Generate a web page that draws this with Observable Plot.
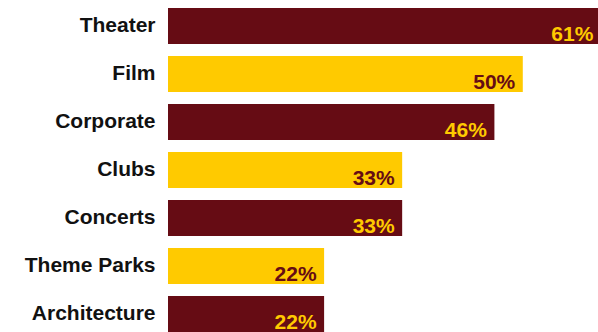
<!DOCTYPE html>
<html><head><meta charset="utf-8">
<script src="https://cdn.jsdelivr.net/npm/d3@7"></script>
<script src="https://cdn.jsdelivr.net/npm/@observablehq/plot@0.6"></script>
<style>body{margin:0;background:#fff}</style>
</head><body><div id="chart"></div>
<script>
const categories = ["Theater","Film","Corporate","Clubs","Concerts","Theme Parks","Architecture"];
const values = [61,50,46,33,33,22,22];
const maroon = "#660c14", gold = "#ffca00";
const data = categories.map((c,i)=>({category:c, value:values[i], idx:i}));
const chart = Plot.plot({
  width:598, height:332, marginLeft:168, marginRight:0, marginTop:8, marginBottom:0,
  style:{fontFamily:"'Liberation Sans', Arial, sans-serif", fontWeight:"bold", fontSize:"21px", color:"#111", background:"#fff"},
  x:{domain:[0,60.6], axis:null},
  y:{domain:categories, paddingInner:0.25, paddingOuter:0, axis:null},
  marks:[
    Plot.barX(data,{y:"category", x:"value", fill:d=>d.idx%2?gold:maroon}),
    Plot.text(data,{y:"category", x:"value", text:d=>d.value+"%", textAnchor:"end", dx:-8, dy:8,
      fill:d=>d.idx%2?maroon:gold, fontSize:21, fontWeight:"bold"}),
    Plot.axisY({tickSize:0, tickPadding:13, dy:-1, fontSize:21, fontWeight:"bold", label:null, fill:"#111"})
  ]
});
document.getElementById("chart").append(chart);
</script>
</body></html>
